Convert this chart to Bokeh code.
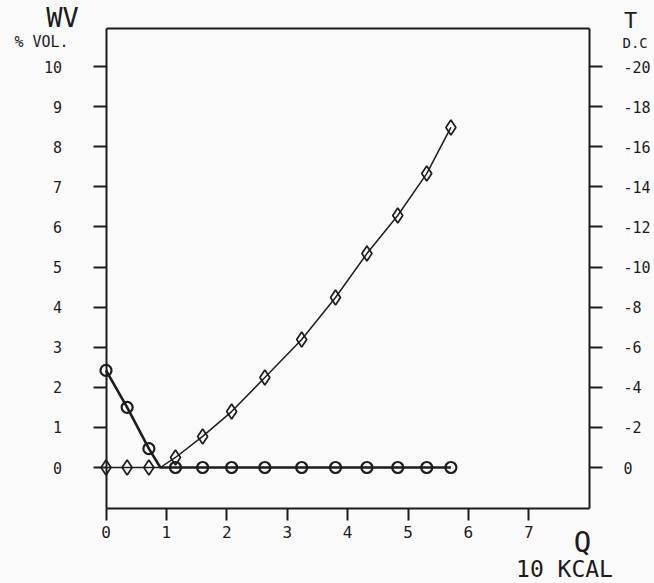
from bokeh.plotting import figure
from bokeh.models import Range1d, LinearAxis, FixedTicker, Label
from bokeh.embed import file_html
from bokeh.resources import INLINE

# ---- data ----
q = [0.0, 0.35, 0.71, 1.15, 1.60, 2.08, 2.63, 3.24, 3.80, 4.32, 4.83, 5.31, 5.71]
wv = [2.42, 1.50, 0.47, 0.0, 0.0, 0.0, 0.0, 0.0, 0.0, 0.0, 0.0, 0.0, 0.0]
t_dc = [0.0, 0.0, 0.0, -0.5, -1.55, -2.79, -4.49, -6.38, -8.48, -10.67, -12.57, -14.66, -16.96]
# meeting point of the two curves (no marker)
q_meet = 0.90
wv_meet = 0.0
t_meet = 0.0

x_ticks = [0, 1, 2, 3, 4, 5, 6, 7]
wv_ticks = [0, 1, 2, 3, 4, 5, 6, 7, 8, 9, 10]
t_ticks = [0, -2, -4, -6, -8, -10, -12, -14, -16, -18, -20]
t_tick_labels = {v: ("0" if v == 0 else "-" + str(abs(v))) for v in t_ticks}

# plot box (data limits of the drawn frame)
Q_MIN, Q_MAX = 0.0, 8.005
WV_MIN, WV_MAX = -1.01, 10.94

FONT = "DejaVu Sans Mono"
INK = "#1c1c1c"
BG = "#fafafa"

W, H = 654, 583
PX_X = 60.4   # pixels per Q unit
PX_Y = 40.1   # pixels per WV unit
x0 = -105.5 / PX_X
y1 = 467.0 / PX_Y
x1 = x0 + W / PX_X
y0 = y1 - H / PX_Y

p = figure(width=W, height=H, output_backend="svg", toolbar_location=None,
           x_range=Range1d(x0, x1), y_range=Range1d(y0, y1),
           x_axis_location=None, y_axis_location=None,
           min_border=0, background_fill_color=BG, border_fill_color=BG)
p.grid.visible = False
p.outline_line_color = None

p.extra_y_ranges = {"T": Range1d(start=-2 * y0, end=-2 * y1)}

def style_axis(ax, tick_out, standoff, size="15px"):
    ax.axis_line_color = INK
    ax.axis_line_width = 2
    ax.major_tick_line_color = INK
    ax.major_tick_line_width = 2
    ax.major_tick_out = tick_out
    ax.major_tick_in = 0
    ax.minor_tick_line_color = None
    ax.major_label_text_font = FONT
    ax.major_label_text_font_size = size
    ax.major_label_text_color = INK
    ax.major_label_standoff = standoff

xa = LinearAxis(fixed_location=WV_MIN, bounds=(Q_MIN, Q_MAX), ticker=FixedTicker(ticks=x_ticks))
style_axis(xa, 12, 6, "16px")
p.add_layout(xa, "below")

ya = LinearAxis(fixed_location=Q_MIN, bounds=(WV_MIN, WV_MAX), ticker=FixedTicker(ticks=wv_ticks))
style_axis(ya, 13, 31)
p.add_layout(ya, "left")

ra = LinearAxis(y_range_name="T", fixed_location=Q_MAX, bounds=(-2 * WV_MAX, -2 * WV_MIN),
                ticker=FixedTicker(ticks=t_ticks), major_label_overrides=t_tick_labels)
style_axis(ra, 13, 21)
p.add_layout(ra, "right")

ta = LinearAxis(fixed_location=WV_MAX, bounds=(Q_MIN, Q_MAX), ticker=FixedTicker(ticks=[]))
style_axis(ta, 0, 0)
ta.major_label_text_font_size = "0px"
p.add_layout(ta, "above")

# ---- lines ----
wv_line_q = q[:3] + [q_meet] + q[3:]
wv_line_v = wv[:3] + [wv_meet] + wv[3:]
t_line_q = q[:3] + [q_meet] + q[3:]
t_line_v = t_dc[:3] + [t_meet] + t_dc[3:]

p.line(t_line_q, t_line_v, y_range_name="T", line_color=INK, line_width=1.5)
p.line(wv_line_q, wv_line_v, line_color=INK, line_width=2.6)

p.scatter(q, t_dc, y_range_name="T", marker="diamond", size=15, line_color=INK,
          line_width=1.7, fill_color=None)
p.scatter(q, wv, marker="circle", size=11, line_color=INK, line_width=2.2, fill_color=None)

# ---- axis titles ----
def lab(x, y, text, size, align="center"):
    p.add_layout(Label(x=x, y=y, text=text, text_font=FONT, text_font_size=size,
                       text_color=INK, text_align=align, text_baseline="alphabetic"))

lab(-0.720, 11.222, "WV", "27px")
lab(-1.068, 10.611, "% VOL.", "15px")
lab(8.684, 11.150, "T", "22px")
lab(8.551, 10.579, "D.C", "14px", align="left")
lab(7.889, -1.853, "Q", "29px")
lab(7.591, -2.531, "10 KCAL", "23px")

open("out.html", "w").write(file_html(p, INLINE))
